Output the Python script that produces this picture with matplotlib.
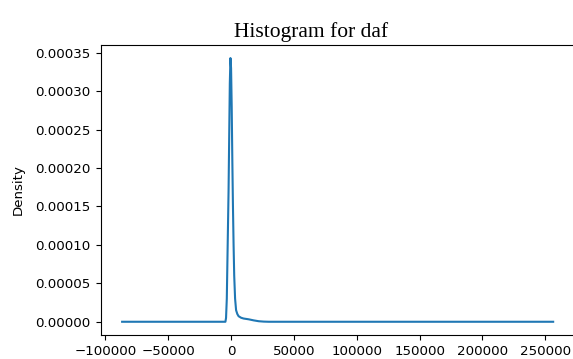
"""
Density curve of the daf column, redrawn from the reference picture.
"""

import matplotlib
import matplotlib.pyplot as plt

matplotlib.use('Agg')

# points (x value, density)
x_vals = [-86700, -6000, -4500, -4000, -3400, -3000, -2500, -2000, -1500,
          -1000, -500, 0, 500, 1000, 1500, 2000, 2500, 3200, 4000, 5000,
          6000, 8000, 10000, 14000, 18000, 22000, 26000, 30000, 256300]
density = [0, 0, 0, 0.000005, 0.00003, 0.00007, 0.00012, 0.00017, 0.00024,
           0.00031, 0.000343, 0.00033, 0.00028, 0.00021, 0.00015, 0.0001,
           0.00006, 0.00003, 0.000015, 0.00001, 0.0000072, 0.0000052,
           0.0000042, 0.0000032, 0.0000018, 0.0000007, 0.0000002, 0, 0]

plt.rcParams['font.size'] = 9.6

fig = plt.figure(figsize=(5.73, 3.59), dpi=100)
ax = fig.add_axes([0.1755, 0.067, 0.8275, 0.808])

ax.plot(x_vals, density, color='#1f77b4', linewidth=1.5)
ax.set_ylabel("Density")
ax.tick_params(length=3.5)
ax.set_xticks([-100000, -50000, 0, 50000, 100000, 150000, 200000, 250000])
ax.set_yticks([0, 0.00005, 0.0001, 0.00015, 0.0002, 0.00025, 0.0003, 0.00035])
ax.set_yticklabels(["%.5f" % v for v in ax.get_yticks()])
ax.yaxis.set_label_coords(-0.16, 0.5)

fig.text(311 / 573, 1 - 37.3 / 359, "Histogram for daf", ha='center',
         va='baseline', fontsize=15.5, family='Liberation Serif')

fig.savefig('out.png', dpi=100)
